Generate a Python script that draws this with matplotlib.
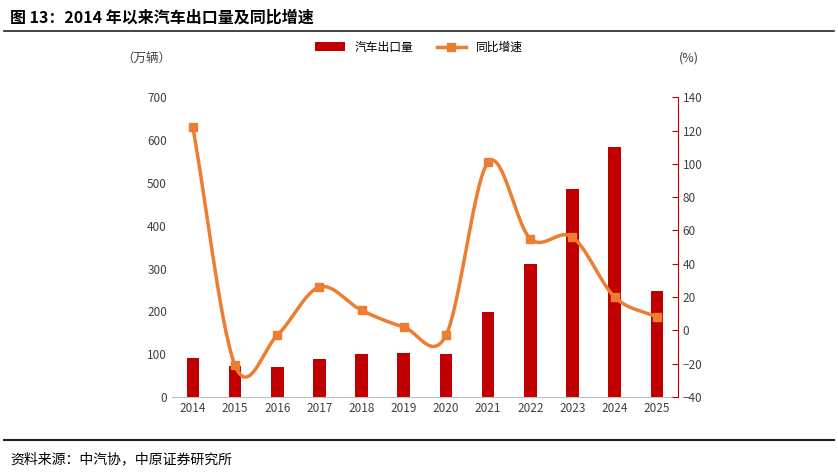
import matplotlib
matplotlib.use("Agg")
import matplotlib.pyplot as plt
import numpy as np

plt.rcParams["font.family"] = ["Noto Sans CJK SC", "DejaVu Sans"]

years = ["2014","2015","2016","2017","2018","2019","2020","2021","2022","2023","2024","2025"]
exports = [91, 72, 70, 89, 100, 103, 100, 198, 310, 485, 583, 247]
growth = [122, -21, -3, 26, 12, 2, -3, 101, 55, 56, 20, 8]

def catmull(xs, ys, n=30):
    xs = np.asarray(xs, float); ys = np.asarray(ys, float)
    px = np.concatenate([[2*xs[0]-xs[1]], xs, [2*xs[-1]-xs[-2]]])
    py = np.concatenate([[2*ys[0]-ys[1]], ys, [2*ys[-1]-ys[-2]]])
    ox, oy = [], []
    for i in range(1, len(px)-2):
        t = np.linspace(0, 1, n)
        for p, o in ((px, ox), (py, oy)):
            p0, p1, p2, p3 = p[i-1], p[i], p[i+1], p[i+2]
            o.extend(0.5*((2*p1) + (-p0+p2)*t + (2*p0-5*p1+4*p2-p3)*t**2 + (-p0+3*p1-3*p2+p3)*t**3))
    return ox, oy

fig = plt.figure(figsize=(8.38, 4.72), dpi=100)
ax = fig.add_axes([0.205, 0.159, 0.604, 0.635])
x = np.arange(len(years))
b = ax.bar(x, exports, width=0.3, color="#C00000", label="汽车出口量", zorder=2)
ax.set_ylim(0, 700)
ax.set_yticks(range(0, 701, 100))
ax.set_xlim(-0.5, len(years)-0.5)
ax.set_xticks(x, years)
ax.tick_params(labelsize=8.5, colors="#404040", length=0)
for s in ["top", "right", "left"]:
    ax.spines[s].set_visible(False)
ax.spines["bottom"].set_color("#BFBFBF")

ax2 = ax.twinx()
sx, sy = catmull(x, growth)
ax2.plot(sx, sy, color="#ED7D31", lw=2.5, zorder=3)
ln, = ax2.plot(x, growth, "s", color="#ED7D31", ms=6, zorder=4)
ln2, = ax2.plot([], [], "-s", color="#ED7D31", lw=2.5, ms=6, label="同比增速")
ax2.set_ylim(-40, 140)
ax2.set_yticks(range(-40, 141, 20))
for s in ["top", "left", "bottom"]:
    ax2.spines[s].set_visible(False)
ax2.spines["right"].set_color("#C00000")
ax2.tick_params(axis="y", colors="#C00000", labelsize=8.5, direction="in", length=4)
ax2.tick_params(axis="y", labelcolor="#404040")

fig.legend(handles=[b, ln2], loc="center", bbox_to_anchor=(0.5, 0.9), ncol=2, frameon=False,
           fontsize=8.5, handlelength=2.5, columnspacing=2)
fig.text(0.145, 0.87, "（万辆）", fontsize=9, color="#404040")
fig.text(0.81, 0.87, "(%)", fontsize=9, color="#404040")

fig.text(0.012, 0.963, "图 13：2014 年以来汽车出口量及同比增速", fontsize=11.5, fontweight="bold", va="center")
fig.add_artist(plt.Line2D([0.005, 0.995], [0.935, 0.935], color="#222222", lw=1.2))
fig.add_artist(plt.Line2D([0.005, 0.995], [0.068, 0.068], color="#222222", lw=1.5))
fig.text(0.012, 0.028, "资料来源：中汽协，中原证券研究所", fontsize=10, va="center")

fig.savefig("out.png", dpi=100)
